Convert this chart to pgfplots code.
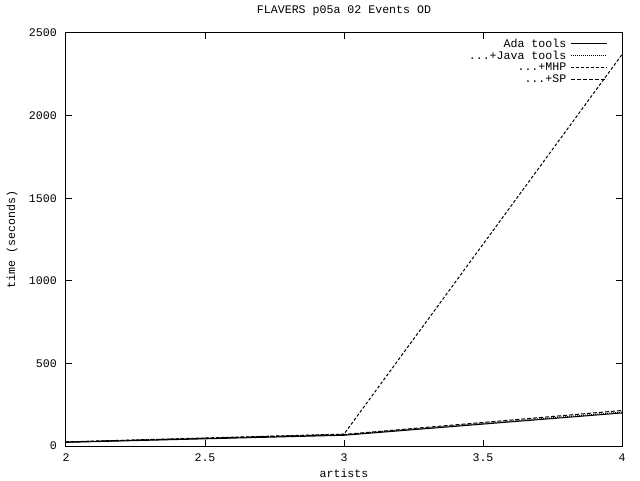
\documentclass[border=0pt]{standalone}
\usepackage{fontspec}
\setmainfont{Liberation Mono}
\usepackage{pgfplots}
\pgfplotsset{compat=1.18}
\newcommand{\gf}{\fontsize{11.6pt}{12pt}\selectfont}
\begin{document}
\gf
\begin{tikzpicture}[x=1pt,y=1pt]
\useasboundingbox (0,0) rectangle (640,480);
\begin{axis}[
  at={(66pt,34pt)}, anchor=south west,
  scale only axis, width=556pt, height=413pt,
  xmin=2, xmax=4, ymin=0, ymax=2500,
  xtick={2,2.5,3,3.5,4}, ytick={0,500,1000,1500,2000,2500},
  tick align=inside, major tick length=6pt,
  xtick pos=both, ytick pos=both,
  minor tick num=0,
  axis line style={line width=1pt},
  every tick/.style={line width=1pt, black},
  /pgf/number format/assume math mode=true,
  /pgf/number format/1000 sep={},
  tick label style={font=\gf, inner sep=0pt},
  xticklabel style={anchor=center, yshift=-12pt},
  yticklabel style={anchor=east, xshift=-9pt},
  title={FLAVERS p05a 02 Events OD},
  title style={at={(0.5,1)}, anchor=center, yshift=16pt, font=\gf},
  xlabel={artists},
  ylabel={time (seconds)},
  xlabel style={at={(0.5,0)}, anchor=center, yshift=-27pt, font=\gf},
  ylabel style={at={(axis description cs:-0.097,0.5)}, anchor=center, font=\gf},
  legend plot pos=right,
  legend cell align=right,
  legend image code/.code={\draw[#1] (0pt,0pt) -- (36pt,0pt);},
  legend style={at={(1,1)}, anchor=north east, xshift=-14pt, yshift=-4pt, draw=none, fill=none,
     font=\gf, row sep=-1pt, column sep=3pt, inner sep=0pt,
     nodes={inner sep=1.5pt}},
]
\addplot[black, line width=1pt] coordinates {(2,22) (3,65) (4,200)};
\addlegendentry{Ada tools}
\addplot[black, line width=1pt, dash pattern=on 1pt off 1pt] coordinates {(2,24) (3,68) (4,205)};
\addlegendentry{...+Java tools}
\addplot[black, line width=1pt, dash pattern=on 3pt off 2pt] coordinates {(2,25) (3,72) (4,2370)};
\addlegendentry{...+MHP}
\addplot[black, line width=1pt, dash pattern=on 4pt off 2pt] coordinates {(2,24) (3,70) (4,215)};
\addlegendentry{...+SP}
\end{axis}
\end{tikzpicture}
\end{document}
